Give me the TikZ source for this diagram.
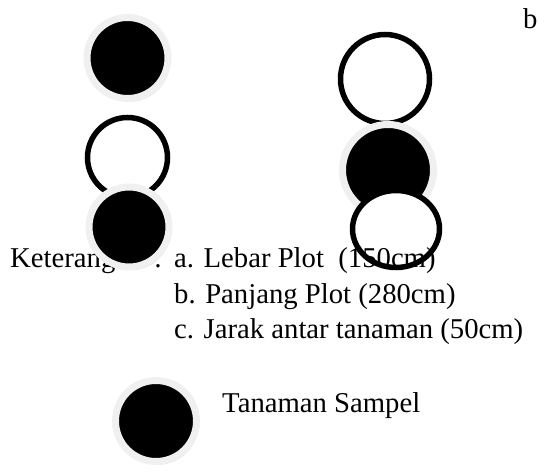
\documentclass[tikz,border=0pt]{standalone}
\usepackage{fontspec}
\setmainfont{Liberation Serif}
\usetikzlibrary{shapes.geometric,shadows}
\definecolor{rimgray}{RGB}{240,240,240}
\newcommand{\rimwidth}{7bp}
\newcommand{\ringwidth}{5.5bp}

\begin{document}
\begin{tikzpicture}[x=1bp, y=-1bp, font=\fontsize{28.7bp}{35bp}\selectfont,
    sampel/.style={circle, inner sep=0, fill=black, draw=rimgray, line width=\rimwidth,
        drop shadow={shadow xshift=2bp, shadow yshift=-3bp, fill=gray!45, opacity=1}},
    ring/.style={circle, inner sep=0, fill=white, draw=black, line width=\ringwidth},
    ket/.style={anchor=base west, inner sep=0}]
    \useasboundingbox (0,0) rectangle (550,472);

    % Right row.
    \node[ring, minimum size=89bp] (t2) at (385,79) {};
    \node[sampel, minimum size=91bp] (s3) at (388,170) {};
    \node[ring, ellipse, minimum width=87bp, minimum height=77bp] (t3) at (396,229) {};

    % Texts.
    \node[ket] (b) at (523,29) {b};
    \node[ket] (keterangan) at (10,268) {Keterangan};
    \node[ket] (colon) at (154,268) {:};
    \node[ket] (lebar) at (174,268) {a. Lebar Plot\ \ (150cm)};
    \node[ket] (panjang) at (174,303) {b. Panjang Plot (280cm)};
    \node[ket] (jarak) at (174,338) {c. Jarak antar tanaman (50cm)};
    \node[ket] (sampeltext) at (222,412) {Tanaman Sampel};

    % Left row.
    \node[sampel, minimum size=81bp] (s1) at (127.5,58) {};
    \node[ring, minimum size=80bp] (t1) at (127.5,157.5) {};
    \node[sampel, minimum size=80bp] (s2) at (129,227) {};

    % Legend.
    \node[sampel, minimum size=81bp] (s4) at (156,421) {};
\end{tikzpicture}
\end{document}
